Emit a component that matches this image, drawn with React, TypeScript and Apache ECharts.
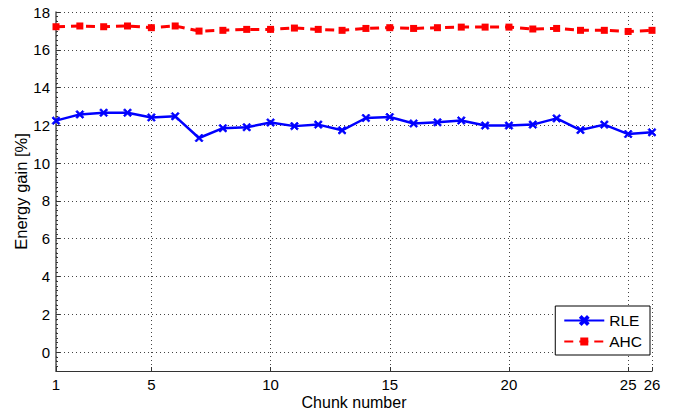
import React, { useEffect, useRef } from "react";
import * as echarts from "echarts";

// Chunk indices 1..26
const chunks: string[] = [
  "1", "2", "3", "4", "5", "6", "7", "8", "9", "10", "11", "12", "13",
  "14", "15", "16", "17", "18", "19", "20", "21", "22", "23", "24", "25", "26",
];

// Energy gain per chunk [%]
const rleGain: number[] = [
  12.25, 12.58, 12.67, 12.67, 12.42, 12.48, 11.33, 11.85, 11.9, 12.15, 11.96, 12.04, 11.74,
  12.39, 12.44, 12.1, 12.16, 12.26, 11.99, 11.99, 12.04, 12.37, 11.75, 12.04, 11.54, 11.63,
];
const ahcGain: number[] = [
  17.22, 17.26, 17.22, 17.26, 17.17, 17.26, 16.99, 17.03, 17.08, 17.08, 17.15, 17.08, 17.03,
  17.13, 17.17, 17.13, 17.17, 17.2, 17.2, 17.2, 17.1, 17.13, 17.03, 17.03, 16.97, 17.03,
];

// Indices of the chunks that get a tick, label and grid line
const tickChunks: number[] = [0, 4, 9, 14, 19, 24, 25];

const FONT = "'Liberation Sans', Arial, sans-serif";
const X_MARK =
  "path://M0,1.6L1.6,0L5,3.4L8.4,0L10,1.6L6.6,5L10,8.4L8.4,10L5,6.6L1.6,10L0,8.4L3.4,5Z";

export default function App() {
  const ref = useRef<HTMLDivElement>(null);

  useEffect(() => {
    if (!ref.current) return;
    const chart = echarts.init(ref.current, undefined, { renderer: "svg" });
    const showTick = (index: number) => tickChunks.includes(index);
    const dotted = { color: "#444", width: 1, type: [1, 3] as number[] };

    chart.setOption({
      animation: false,
      backgroundColor: "#fff",
      textStyle: { fontFamily: FONT },
      grid: {
        left: 56,
        right: 28,
        top: 12,
        bottom: 41,
        containLabel: false,
        outerBoundsMode: "none",
      },
      legend: {
        orient: "vertical",
        right: 30,
        top: 306,
        backgroundColor: "#fff",
        borderColor: "#000",
        borderWidth: 1,
        padding: [6, 8, 5, 8],
        itemGap: 4,
        itemWidth: 40,
        itemHeight: 10,
        textStyle: { fontFamily: FONT, fontSize: 15.5, color: "#000", lineHeight: 17 },
        data: ["RLE", "AHC"],
      },
      xAxis: {
        type: "category",
        data: chunks,
        boundaryGap: false,
        name: "Chunk number",
        nameLocation: "middle",
        nameGap: 23,
        nameMoveOverlap: false,
        nameTextStyle: {
          fontFamily: FONT,
          fontSize: 16,
          color: "#000",
          verticalAlign: "top",
          lineHeight: 16,
        },
        axisLine: { onZero: false, lineStyle: { color: "#333", width: 1.2 } },
        axisTick: { inside: true, length: 4, interval: showTick, lineStyle: { color: "#333" } },
        axisLabel: {
          interval: showTick,
          margin: 6,
          fontFamily: FONT,
          fontSize: 15,
          color: "#000",
        },
        splitLine: { show: true, interval: showTick, lineStyle: dotted },
      },
      yAxis: {
        type: "value",
        min: -1,
        max: 18,
        splitNumber: 10,
        name: "Energy gain [%]",
        nameLocation: "middle",
        nameGap: 27,
        nameMoveOverlap: false,
        nameTextStyle: { fontFamily: FONT, fontSize: 16.5, color: "#000" },
        axisLine: { show: true, lineStyle: { color: "#555", width: 1.5 } },
        axisTick: { show: true, inside: true, length: 4, lineStyle: { color: "#333" } },
        minorTick: { show: true, splitNumber: 8, length: 2, lineStyle: { color: "#333" } },
        axisLabel: {
          margin: 6,
          fontFamily: FONT,
          fontSize: 15,
          color: "#000",
          formatter: (v: number) => (v < 0 ? "" : String(v)),
        },
        splitLine: { show: true, lineStyle: dotted },
      },
      series: [
        {
          name: "RLE",
          type: "line",
          data: rleGain,
          symbol: X_MARK,
          symbolSize: 8,
          showAllSymbol: true,
          lineStyle: { color: "#0000ff", width: 2.5 },
          itemStyle: { color: "#0000ff", borderColor: "#0000ff", borderWidth: 0.8 },
          z: 3,
        },
        {
          name: "AHC",
          type: "line",
          data: ahcGain,
          symbol: "rect",
          symbolSize: 7,
          showAllSymbol: true,
          lineStyle: { color: "#ff0000", width: 3, type: [9, 6] },
          itemStyle: { color: "#ff0000" },
          z: 3,
        },
      ],
    });

    return () => chart.dispose();
  }, []);

  return (
    <div
      ref={ref}
      style={{ width: 680, height: 412, position: "absolute", left: 0, top: 0 }}
    />
  );
}
